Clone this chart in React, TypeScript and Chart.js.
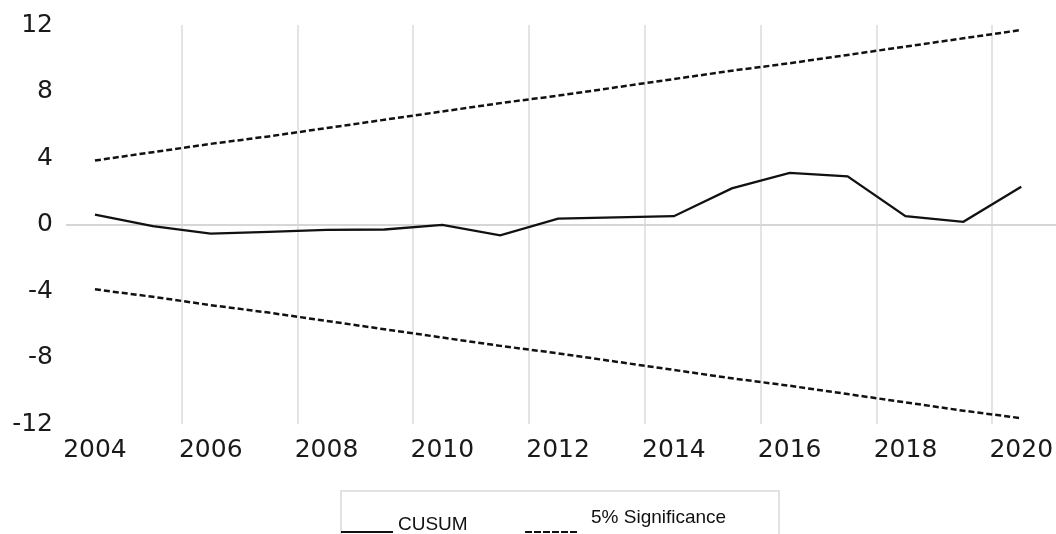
import React, { useEffect, useRef } from "react";
import { Chart, registerables } from "chart.js";

Chart.register(...registerables);

const years = [2004, 2005, 2006, 2007, 2008, 2009, 2010, 2011, 2012, 2013, 2014, 2015, 2016, 2017, 2018, 2019, 2020];
const cusum = [0.6, -0.1, -0.55, -0.44, -0.32, -0.3, -0.02, -0.65, 0.35, 0.43, 0.5, 2.17, 3.1, 2.9, 0.5, 0.16, 2.27];
const upper = [3.85, 4.35, 4.85, 5.3, 5.8, 6.3, 6.8, 7.3, 7.75, 8.25, 8.75, 9.25, 9.7, 10.2, 10.7, 11.2, 11.7];
const lower = [-3.9, -4.35, -4.85, -5.3, -5.8, -6.3, -6.8, -7.3, -7.75, -8.25, -8.75, -9.25, -9.7, -10.2, -10.7, -11.2, -11.65];

const xLabelYears = [2004, 2006, 2008, 2010, 2012, 2014, 2016, 2018, 2020];
const xGridYears = [2005.5, 2007.5, 2009.5, 2011.5, 2013.5, 2015.5, 2017.5, 2019.5];
const yTicks = [-12, -8, -4, 0, 4, 8, 12];

const seriesNames = ["CUSUM", "5% Significance"];

export default function App() {
  const canvasRef = useRef<HTMLCanvasElement | null>(null);

  useEffect(() => {
    const canvas = canvasRef.current;
    if (!canvas) return;
    const toPoints = (vals: number[]) => years.map((yr, i) => ({ x: yr, y: vals[i] }));
    const chart = new Chart(canvas, {
      type: "line",
      data: {
        datasets: [
          {
            label: seriesNames[0],
            data: toPoints(cusum),
            borderColor: "#111111",
            borderWidth: 2.3,
            pointRadius: 0,
            tension: 0,
            fill: false,
          },
          {
            label: seriesNames[1],
            data: toPoints(upper),
            borderColor: "#111111",
            borderWidth: 2.5,
            borderDash: [6, 3],
            pointRadius: 0,
            tension: 0,
            fill: false,
          },
          {
            label: seriesNames[1] + " (lower)",
            data: toPoints(lower),
            borderColor: "#111111",
            borderWidth: 2.5,
            borderDash: [6, 3],
            pointRadius: 0,
            tension: 0,
            fill: false,
          },
        ],
      },
      options: {
        responsive: false,
        animation: false,
        devicePixelRatio: 1,
        layout: { padding: { top: 25, right: 0, left: 0, bottom: 0 } },
        plugins: {
          legend: { display: false },
          tooltip: { enabled: false },
        },
        scales: {
          x: {
            type: "linear",
            min: 2003.5,
            max: 2020.6,
            border: { display: false },
            grid: {
              drawTicks: false,
              lineWidth: 2,
              color: (ctx: any) =>
                ctx.tick && xGridYears.includes(ctx.tick.value) ? "#e4e4e4" : "rgba(0,0,0,0)",
            },
            afterBuildTicks: (axis: any) => {
              const vals = [...xLabelYears, ...xGridYears].sort((a, b) => a - b);
              axis.ticks = vals.map((v) => ({ value: v }));
            },
            afterFit: (axis: any) => {
              axis.height = 110;
              axis.paddingLeft = 0;
              axis.paddingRight = 0;
            },
            ticks: {
              autoSkip: false,
              maxRotation: 0,
              padding: 11,
              color: "#1a1a1a",
              font: { family: "DejaVu Sans", size: 25 },
              callback: (v: any) => (xLabelYears.includes(Number(v)) ? String(v) : ""),
            },
          },
          y: {
            type: "linear",
            min: -12,
            max: 12,
            border: { display: false },
            grid: {
              drawTicks: false,
              lineWidth: 2,
              color: (ctx: any) => (ctx.tick && ctx.tick.value === 0 ? "#d6d6d6" : "rgba(0,0,0,0)"),
            },
            afterBuildTicks: (axis: any) => {
              axis.ticks = yTicks.map((v) => ({ value: v }));
            },
            afterFit: (axis: any) => {
              axis.width = 66;
              axis.paddingTop = 0;
              axis.paddingBottom = 0;
            },
            ticks: {
              padding: 13,
              color: "#1a1a1a",
              font: { family: "DejaVu Sans", size: 25 },
              callback: (v: any) => String(v),
            },
          },
        },
      },
    });
    return () => chart.destroy();
  }, []);

  const textStyle: React.CSSProperties = {
    position: "absolute",
    fontFamily: "'Liberation Sans', Arial, sans-serif",
    fontSize: 19,
    lineHeight: "19px",
    color: "#111",
    whiteSpace: "nowrap",
  };

  return (
    <div
      style={{
        position: "absolute",
        left: 0,
        top: 0,
        width: 1056,
        height: 534,
        overflow: "hidden",
        background: "#fff",
      }}
    >
      <canvas ref={canvasRef} width={1056} height={534} style={{ display: "block", width: 1056, height: 534 }} />
      <div
        style={{
          position: "absolute",
          left: 340,
          top: 490,
          width: 436,
          height: 80,
          border: "2px solid #e2e2e2",
        }}
      />
      <div style={{ position: "absolute", left: 341, top: 531, width: 52, height: 2, background: "#111" }} />
      <div style={{ ...textStyle, left: 398, top: 514 }}>{seriesNames[0]}</div>
      <div
        style={{
          position: "absolute",
          left: 525,
          top: 531,
          width: 54,
          height: 2,
          background: "repeating-linear-gradient(to right, #111 0px, #111 7px, transparent 7px, transparent 9px)",
        }}
      />
      <div style={{ ...textStyle, left: 591, top: 507 }}>{seriesNames[1]}</div>
    </div>
  );
}
